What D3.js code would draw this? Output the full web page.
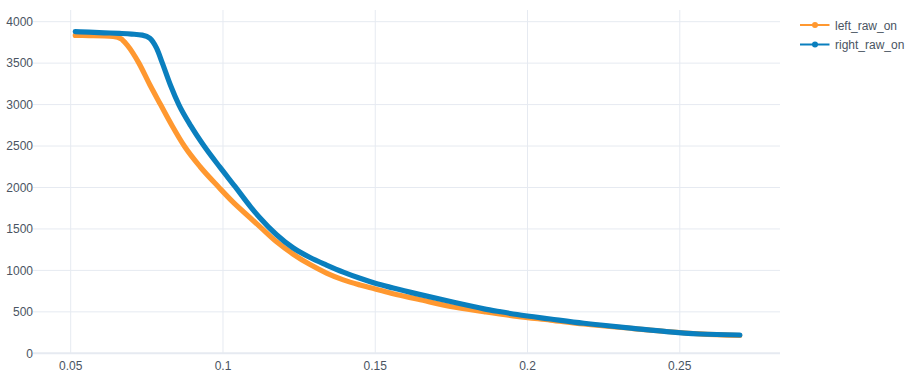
<!DOCTYPE html>
<html>
<head>
<meta charset="utf-8">
<script src="https://cdn.jsdelivr.net/npm/d3@7"></script>
<style>
  html, body { margin: 0; padding: 0; background: #fff; }
  svg { display: block; }
  text { font-family: Arial, "Liberation Sans", sans-serif; font-size: 12px; fill: #4a5462; }
</style>
</head>
<body>
<svg id="chart" width="915" height="375"></svg>
<script>
// ---- data ----
const seriesNames = ["left_raw_on", "right_raw_on"];
const seriesColors = ["#ff9830", "#0a7fbe"];

const leftX = [0.0515, 0.056, 0.061, 0.064, 0.0665, 0.0685, 0.0724, 0.0759, 0.0795, 0.0833,
  0.0873, 0.0925, 0.0987, 0.1034, 0.1089, 0.1121, 0.1176, 0.1231, 0.1286, 0.134,
  0.1395, 0.145, 0.15, 0.1559, 0.1641, 0.1747, 0.1857, 0.1966,
  0.2075, 0.2185, 0.2347, 0.2456, 0.2566, 0.2697];
const leftY = [3835, 3833, 3830, 3822, 3795, 3720, 3500, 3245, 3000, 2745,
  2500, 2250, 2000, 1820, 1635, 1528, 1345, 1195, 1070, 968,
  886, 824, 776, 718, 652, 565, 502, 445,
  400, 353, 298, 263, 234, 215];

const rightX = [0.0515, 0.056, 0.061, 0.066, 0.070, 0.0735, 0.0760, 0.0782, 0.0801, 0.0828,
  0.0855, 0.0895, 0.0938, 0.099, 0.104, 0.109, 0.1121, 0.1176, 0.1231, 0.1286,
  0.134, 0.1395, 0.145, 0.15, 0.1559, 0.1641, 0.1747, 0.1857,
  0.191, 0.1966, 0.2075, 0.2185, 0.224, 0.2347, 0.2456, 0.2566, 0.2697];
const rightY = [3880, 3873, 3866, 3859, 3851, 3838, 3800, 3680, 3500, 3230,
  3000, 2740, 2500, 2245, 2010, 1770, 1635, 1430, 1270, 1155,
  1065, 980, 905, 845, 788, 714, 624, 536,
  502, 468, 414, 362, 341, 301, 261, 233, 221];

const xTicks = [0.05, 0.1, 0.15, 0.2, 0.25];
const xTickLabels = ["0.05", "0.1", "0.15", "0.2", "0.25"];
const yTicks = [0, 500, 1000, 1500, 2000, 2500, 3000, 3500, 4000];

// ---- layout ----
const plot = { left: 35, right: 780, top: 10, bottom: 353.3 };

const x = d3.scaleLinear().domain([0.03828, 0.2829]).range([plot.left, plot.right]);
const y = d3.scaleLinear().domain([0, 4141]).range([plot.bottom, plot.top]);

const svg = d3.select("#chart");
const gridColor = "#e6eaf1";

// vertical grid
svg.append("g").selectAll("line").data(xTicks).join("line")
  .attr("x1", d => x(d)).attr("x2", d => x(d))
  .attr("y1", plot.top).attr("y2", plot.bottom)
  .attr("stroke", gridColor).attr("stroke-width", 1);

// horizontal grid (zero line thicker)
svg.append("g").selectAll("line").data(yTicks).join("line")
  .attr("x1", plot.left - 2).attr("x2", plot.right)
  .attr("y1", d => y(d)).attr("y2", d => y(d))
  .attr("stroke", gridColor).attr("stroke-width", d => d === 0 ? 2 : 1);

// y labels
svg.append("g").selectAll("text").data(yTicks).join("text")
  .attr("x", plot.left - 2).attr("y", d => y(d))
  .attr("text-anchor", "end").attr("dy", "0.35em")
  .text(d => d3.format("d")(d));

// x labels
svg.append("g").selectAll("text").data(xTicks).join("text")
  .attr("x", d => x(d)).attr("y", 369.5)
  .attr("text-anchor", "middle")
  .text((d, i) => xTickLabels[i]);

// series
const series = [
  { name: seriesNames[0], color: seriesColors[0], pts: leftX.map((v, i) => [v, leftY[i]]) },
  { name: seriesNames[1], color: seriesColors[1], pts: rightX.map((v, i) => [v, rightY[i]]) }
];

const line = d3.line().x(d => x(d[0])).y(d => y(d[1])).curve(d3.curveMonotoneX);

series.forEach(s => {
  svg.append("path")
    .attr("d", line(s.pts))
    .attr("fill", "none")
    .attr("stroke", s.color)
    .attr("stroke-width", 5.2)
    .attr("stroke-linejoin", "round")
    .attr("stroke-linecap", "round");
});

// legend
const legend = svg.append("g");
series.forEach((s, i) => {
  const ly = 25 + i * 19.5;
  legend.append("line")
    .attr("x1", 800).attr("x2", 829.5).attr("y1", ly).attr("y2", ly)
    .attr("stroke", s.color).attr("stroke-width", 2);
  legend.append("circle").attr("cx", 815).attr("cy", ly).attr("r", 3).attr("fill", s.color);
  legend.append("text").attr("x", 835).attr("y", ly + 4.5).text(s.name);
});
</script>
</body>
</html>
